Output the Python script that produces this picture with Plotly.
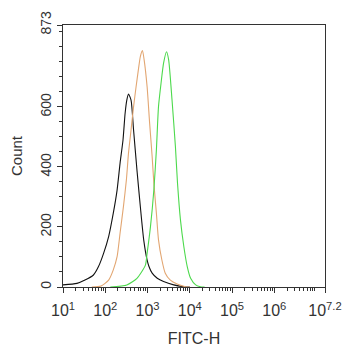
import plotly.graph_objects as go

# Histogram outlines: x as log10(FITC-H), y as Count
black_logx = [1.0, 1.33, 1.52, 1.72, 1.84, 1.96, 2.08, 2.19, 2.28, 2.35, 2.42, 2.47, 2.51, 2.55,
              2.61, 2.67, 2.75, 2.83, 2.91, 2.99, 3.03, 3.11, 3.23, 3.38, 3.62, 3.86, 4.0]
black_count = [7, 12, 23, 40, 68, 112, 168, 246, 323, 412, 490, 579, 623, 643,
               623, 523, 390, 268, 157, 90, 70, 46, 29, 18, 7, 1, 0]

orange_logx = [1.68, 1.9, 2.08, 2.19, 2.28, 2.35, 2.43, 2.50, 2.55, 2.61, 2.67, 2.73, 2.78, 2.83, 2.88,
               2.92, 2.99, 3.05, 3.11, 3.15, 3.21, 3.26, 3.34, 3.42, 3.54, 3.70, 3.90, 4.0]
orange_count = [0, 3, 23, 57, 101, 179, 268, 357, 446, 523, 601, 668, 720, 768, 788,
                757, 668, 546, 434, 346, 246, 157, 90, 46, 23, 10, 1, 0]

green_logx = [2.12, 2.51, 2.75, 2.95, 2.99, 3.07, 3.15, 3.21, 3.26, 3.32, 3.38, 3.45, 3.50, 3.58,
              3.66, 3.71, 3.78, 3.86, 3.94, 4.02, 4.14, 4.25, 4.35]
green_count = [0, 7, 29, 73, 112, 201, 323, 457, 601, 679, 746, 784, 757, 623,
               468, 346, 223, 134, 68, 29, 7, 1, 0]

x_tick_exp = [1, 2, 3, 4, 5, 6, 7.2]
x_tick_text = ["10<sup>1</sup>", "10<sup>2</sup>", "10<sup>3</sup>", "10<sup>4</sup>",
               "10<sup>5</sup>", "10<sup>6</sup>", "10<sup>7.2</sup>"]
y_tick_vals = [0, 200, 400, 600, 873]

series = [
    (black_logx, black_count, "#111111"),
    (orange_logx, orange_count, "#E2A672"),
    (green_logx, green_count, "#4CD94C"),
]

fig = go.Figure()
for lx, cnt, col in series:
    fig.add_trace(go.Scatter(
        x=[10 ** v for v in lx], y=cnt, mode="lines",
        line=dict(color=col, width=1.1, shape="spline", smoothing=0.6),
        showlegend=False, hoverinfo="skip"))

minor_x = [m * 10 ** k for k in range(1, 8) for m in range(2, 10) if m * 10 ** k < 10 ** 7.2]

font = dict(family="Liberation Sans, Arial, sans-serif", color="#333333")

fig.update_layout(
    width=342, height=350,
    margin=dict(l=63, r=17, t=25, b=63, autoexpand=False),
    paper_bgcolor="white", plot_bgcolor="white",
    font=dict(size=15, **font),
    xaxis=dict(
        type="log", range=[1, 7.2], automargin=False,
        tickvals=[10 ** e for e in x_tick_exp], ticktext=x_tick_text,
        ticks="outside", ticklen=5, tickcolor="#333", tickwidth=1,
        ticklabelstandoff=4,
        showline=True, linecolor="#333", linewidth=1.3, mirror=True,
        showgrid=False, zeroline=False,
        tickfont=dict(size=16, **font),
        title=dict(text="FITC-H", font=dict(size=16, **font), standoff=14),
        minor=dict(tickvals=minor_x, ticks="outside", ticklen=3, tickcolor="#333", showgrid=False),
    ),
    yaxis=dict(
        range=[0, 873], automargin=False,
        tickvals=y_tick_vals, ticktext=[str(v) for v in y_tick_vals],
        tickangle=-90,
        ticks="outside", ticklen=5, tickcolor="#333", tickwidth=1,
        showline=True, linecolor="#333", linewidth=1.3, mirror=True,
        showgrid=False, zeroline=False,
        tickfont=dict(size=14, **font),
        title=dict(text="Count", font=dict(size=15, **font), standoff=12),
        minor=dict(dtick=50, tick0=0, ticks="outside", ticklen=3, tickcolor="#333", showgrid=False),
    ),
)

fig.write_html("out.html", config={"displayModeBar": False},
               post_script="document.body.style.margin='0';document.body.style.padding='0';")
